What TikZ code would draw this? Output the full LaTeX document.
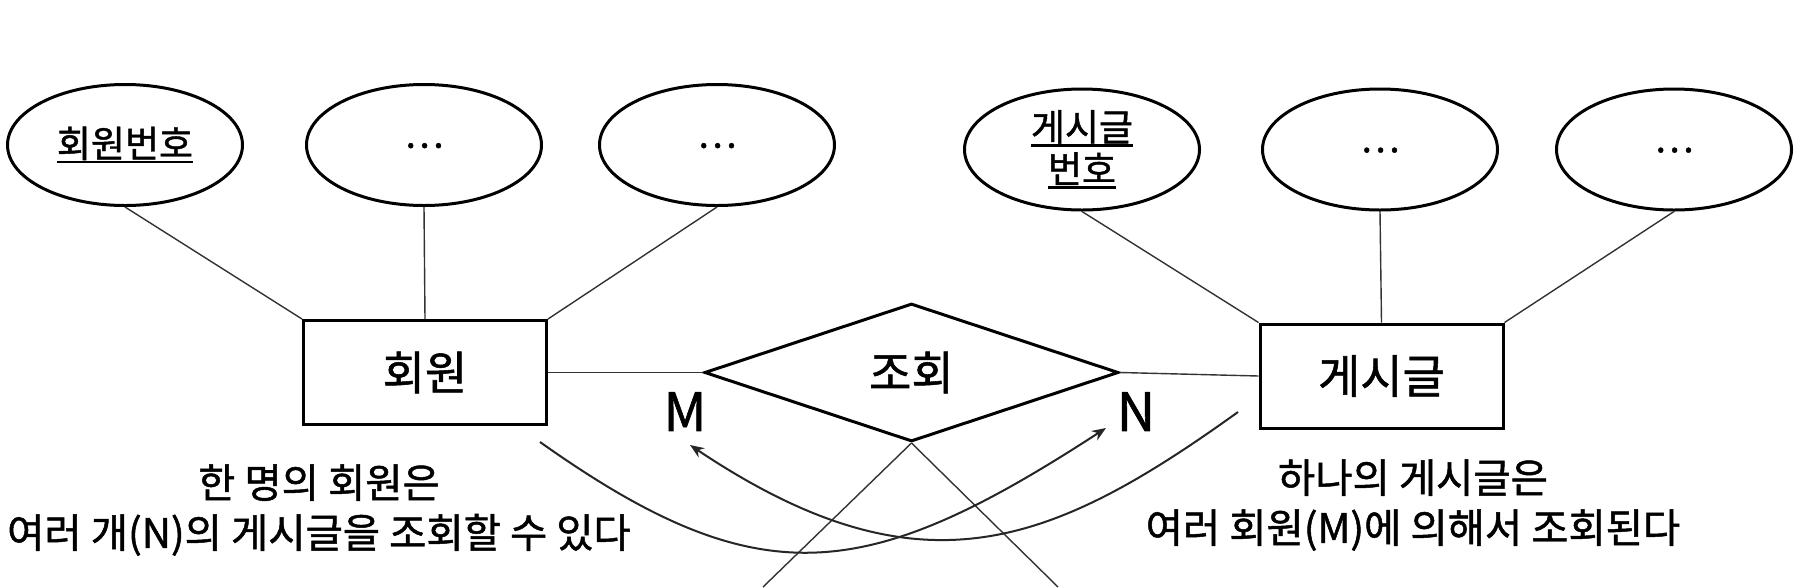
\documentclass[tikz,border=0pt]{standalone}
\usepackage{fontspec}
\setmainfont{Noto Sans CJK KR}[FakeBold=1.2]
\usetikzlibrary{shapes.geometric,arrows.meta}
\newcommand\myul[1]{\leavevmode\setbox0\hbox{#1}\rlap{\rule[-6pt]{\wd0}{2.4pt}}\box0}
\begin{document}
\begin{tikzpicture}[x=1pt,y=-1pt,
 attr/.style={ellipse,draw,line width=3pt,minimum width=235pt,minimum height=121pt,inner sep=0pt,font=\fontsize{37}{42}\selectfont,align=center},
 ent/.style={rectangle,draw,line width=3pt,minimum width=243pt,minimum height=104pt,inner sep=0pt,font=\fontsize{46}{54}\selectfont},
 rel/.style={diamond,draw,line width=3pt,minimum width=414pt,minimum height=138pt,aspect=3,inner sep=0pt,font=\fontsize{46}{54}\selectfont},
 conn/.style={draw=black!80,line width=1.4pt},
 card/.style={font=\fontsize{53}{60}\selectfont,inner sep=0pt},
 note/.style={font=\fontsize{40.5}{50}\selectfont,align=center,inner sep=0pt},
 arcline/.style={draw=black!85,line width=2pt},
 tip/.style={-{Stealth[length=14pt,width=11pt]}}
 ]
\fill[white] (0,0) rectangle (1810,587);
\useasboundingbox (0,0) rectangle (1810,587);
\node[attr] (e1) at (125,145) {\myul{회원번호}};
\node[attr] (e2) at (424,145) {\raisebox{-6pt}{…}};
\node[attr] (e3) at (717,145) {\raisebox{-6pt}{…}};
\node[attr] (e4) at (1082,149.5) {\myul{게시글}\\\myul{번호}};
\node[attr] (e5) at (1380,149.5) {\raisebox{-6pt}{…}};
\node[attr] (e6) at (1674,149.5) {\raisebox{-6pt}{…}};
\node[ent] (r1) at (425,372.5) {회원};
\node[ent] (r2) at (1381.5,376) {게시글};
\node[rel] (d) at (911.5,372.5) {조회};
\node[card] (m) at (685,411.5) {M};
\node[card] (n) at (1136,411.5) {N};
\node[note] (t1) at (319,510) {한 명의 회원은\\여러 개(N)의 게시글을 조회할 수 있다};
\node[note] (t2) at (1413,505) {하나의 게시글은\\여러 회원(M)에 의해서 조회된다};
\draw[conn] (e1.south) -- (r1.north west);
\draw[conn] (e2.south) -- (r1.north);
\draw[conn] (e3.south) -- (r1.north east);
\draw[conn] (e4.south) -- (r2.north west);
\draw[conn] (e5.south) -- (r2.north);
\draw[conn] (e6.south) -- (r2.north east);
\draw[conn] (r1.east) -- (d.west);
\draw[conn] (d.east) -- (r2.west);
\coordinate (b1) at (763,587);
\coordinate (b2) at (1058,587);
\draw[conn] (d.south) -- (b1);
\draw[conn] (d.south) -- (b2);
\coordinate (a1s) at (540,442);
\coordinate (a1e) at (1106,428);
\coordinate (a2s) at (1238,412);
\coordinate (a2e) at (690,445);
\draw[arcline,tip] (a1s) .. controls (760,598) and (866,584) .. (a1e);
\draw[arcline,tip] (a2s) .. controls (1050,547) and (920,599) .. (a2e);
\end{tikzpicture}
\end{document}
